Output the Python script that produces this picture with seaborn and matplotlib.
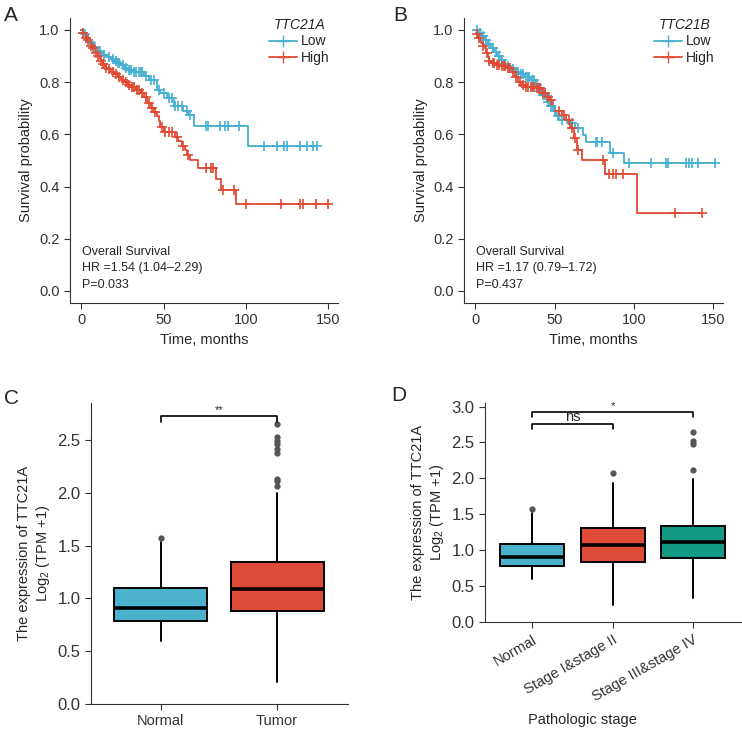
import numpy as np
import matplotlib
matplotlib.use('Agg')
import matplotlib.pyplot as plt
from matplotlib.lines import Line2D
import seaborn as sns

# ---- data ----
# Panel A: TTC21A survival (time, survival after step)
a_low_t = [0, 1, 2, 3, 4, 5, 6, 7, 8, 9, 10, 12, 14, 16, 18, 20, 22, 24, 26, 28, 31, 38, 41, 46, 48, 52, 56, 62, 65, 68.5, 101, 143]
a_low_s = [1.0, 0.99, 0.985, 0.975, 0.965, 0.955, 0.95, 0.94, 0.935, 0.93, 0.92, 0.91, 0.905, 0.895, 0.89, 0.88, 0.875, 0.865, 0.855, 0.845, 0.84, 0.825, 0.81, 0.77, 0.76, 0.74, 0.71, 0.69, 0.675, 0.633, 0.555, 0.555]
a_low_cens = [1, 2, 5, 8, 11, 14, 17, 19, 21, 22, 23, 25, 27, 29, 30, 32, 33, 35, 36, 37, 39, 42, 44, 47, 50, 53, 55, 57, 59, 61, 64, 66,
              76, 77, 84, 87, 89, 96, 111, 119, 123, 125, 133, 137, 141, 143]
a_high_t = [0, 1, 2, 3, 4, 5, 6, 7, 8, 9, 10, 11, 12, 13, 14, 15, 16, 18, 20, 22, 24, 26, 28, 30, 33, 36, 38, 40, 42, 44, 46, 47, 48, 50,
            57, 59, 61, 63, 64, 66, 71, 82, 85, 94, 150]
a_high_s = [1.0, 0.99, 0.98, 0.97, 0.96, 0.95, 0.94, 0.93, 0.92, 0.91, 0.90, 0.89, 0.88, 0.87, 0.86, 0.855, 0.85, 0.84, 0.83, 0.82, 0.81,
            0.80, 0.79, 0.78, 0.77, 0.76, 0.745, 0.72, 0.70, 0.685, 0.67, 0.65, 0.63, 0.61, 0.59, 0.575, 0.555, 0.54, 0.52, 0.50, 0.47,
            0.43, 0.387, 0.333, 0.333]
a_high_cens = [1, 3, 4, 6, 7, 9, 10, 12, 13, 15, 17, 19, 21, 23, 25, 27, 29, 31, 32, 34, 35, 37, 39, 41, 43, 45, 49, 51, 53, 55, 58, 62,
               65, 76, 79, 80, 86, 93, 100, 121.5, 133, 134.5, 142.5, 150]

# Panel B: TTC21B survival
b_low_t = [0, 2, 4, 6, 8, 10, 12, 14, 16, 18, 20, 22, 25, 28, 31, 35, 38, 40, 42, 45, 47, 49, 51, 53, 58, 63, 68, 70, 85, 94, 151]
b_low_s = [1.0, 0.99, 0.975, 0.96, 0.945, 0.93, 0.915, 0.9, 0.885, 0.87, 0.86, 0.85, 0.84, 0.83, 0.82, 0.81, 0.79, 0.765, 0.75, 0.725,
           0.71, 0.69, 0.67, 0.655, 0.642, 0.623, 0.598, 0.572, 0.53, 0.49, 0.49]
b_low_cens = [1, 3, 5, 7, 9, 11, 13, 15, 17, 19, 21, 24, 26, 27, 29, 30, 32, 33, 34, 36, 37, 39, 41, 43, 44, 46, 48, 50, 52, 55, 61, 65,
              76, 77, 80, 86.5, 97, 110.5, 120, 121.5, 133, 134.5, 136.5, 140.5, 151]
b_high_t = [0, 1, 2, 3, 4, 5, 6, 7, 8, 9, 10, 13, 16, 20, 23, 25, 27, 29, 31, 38, 42, 45, 47, 49, 50, 55, 57, 60, 62, 64, 67, 82, 102, 143]
b_high_s = [1.0, 0.985, 0.97, 0.96, 0.95, 0.94, 0.93, 0.91, 0.895, 0.88, 0.872, 0.865, 0.86, 0.853, 0.84, 0.82, 0.80, 0.79, 0.783, 0.776,
            0.757, 0.745, 0.732, 0.71, 0.69, 0.674, 0.655, 0.623, 0.585, 0.54, 0.50, 0.448, 0.298, 0.298]
b_high_cens = [1, 2.5, 5, 7.5, 9, 11, 12, 14, 15, 17, 18, 19, 21, 22, 24, 26, 28, 30, 32, 33, 35, 36, 37, 39, 40, 41, 43, 44, 46, 48, 53,
               56, 59, 61, 63, 65, 80.5, 84, 86.5, 89, 93, 126, 143]

# Panel C: box stats (whislo, q1, med, q3, whishi) and outliers
c_groups = ['Normal', 'Tumor']
c_stats = [[0.60, 0.79, 0.905, 1.097, 1.538], [0.21, 0.876, 1.091, 1.34, 2.00]]
c_fliers = [[1.573], [2.651, 2.53, 2.49, 2.46, 2.415, 2.374, 2.128, 2.112, 2.068]]

# Panel D
d_groups = ['Normal', 'Stage I&stage II', 'Stage III&stage IV']
d_stats = [[0.598, 0.784, 0.904, 1.09, 1.525], [0.232, 0.83, 1.066, 1.303, 1.934], [0.329, 0.886, 1.108, 1.34, 1.989]]
d_fliers = [[1.567], [2.073], [2.643, 2.522, 2.481, 2.119]]

KM_BLUE, KM_RED = '#45B0CF', '#E04A33'
BLUE, RED, GREEN = '#4AB3CB', '#DE4B36', '#139A84'

sns.set_style('ticks')
plt.rcParams['font.family'] = ['Liberation Sans', 'DejaVu Sans']
plt.rcParams['mathtext.fontset'] = 'custom'
plt.rcParams['mathtext.rm'] = 'Liberation Sans'
plt.rcParams['axes.edgecolor'] = '#333333'
plt.rcParams['xtick.color'] = '#333333'
plt.rcParams['ytick.color'] = '#333333'

fig = plt.figure(figsize=(7.42, 7.35), dpi=100)


def km(ax, t, s, cens, color):
    sns.lineplot(x=t, y=s, drawstyle='steps-post', estimator=None, sort=False,
                 color=color, lw=1.3, ax=ax)
    t = np.array(t)
    idx = np.searchsorted(t, cens, side='right') - 1
    ys = np.array(s)[idx]
    ax.scatter(cens, ys, marker='+', s=50, color=color, linewidths=1.2, zorder=3)


def km_panel(rect, gene, low, high, hr, p, letter, lx):
    ax = fig.add_axes(rect)
    km(ax, *low, KM_BLUE)
    km(ax, *high, KM_RED)
    ax.set_xlim(-7, 156)
    ax.set_ylim(-0.046, 1.046)
    ax.set_xticks([0, 50, 100, 150])
    ax.set_yticks([0, 0.2, 0.4, 0.6, 0.8, 1.0])
    ax.set_yticklabels(['0.0', '0.2', '0.4', '0.6', '0.8', '1.0'])
    ax.tick_params(labelsize=10.5, length=4, width=0.8)
    ax.set_xlabel('Time, months', fontsize=10.5)
    ax.set_ylabel('Survival probability', fontsize=10.5)
    sns.despine(ax=ax)
    handles = [Line2D([], [], color=KM_BLUE, marker='+', markersize=8, lw=1.3),
               Line2D([], [], color=KM_RED, marker='+', markersize=8, lw=1.3)]
    ax.legend(handles, ['Low', 'High'], title=gene, frameon=False, loc='upper right',
              bbox_to_anchor=(1.0, 1.03), fontsize=10, title_fontsize=10,
              handlelength=2.0, handletextpad=0.3, borderaxespad=0.2,
              labelspacing=0.2)
    ax.get_legend().get_title().set_style('italic')
    ax.text(0.5, 0.15, 'Overall Survival', fontsize=9, va='center')
    ax.text(0.5, 0.087, 'HR =' + hr, fontsize=9, va='center')
    ax.text(0.5, 0.023, 'P=' + p, fontsize=9, va='center')
    fig.text(lx, 0.972, letter, fontsize=15)
    return ax


km_panel([0.0943, 0.5878, 0.3612, 0.3878], 'TTC21A', (a_low_t, a_low_s, a_low_cens),
         (a_high_t, a_high_s, a_high_cens), '1.54 (1.04–2.29)', '0.033', 'A', 0.006)
km_panel([0.6253, 0.5878, 0.349, 0.3878], 'TTC21B', (b_low_t, b_low_s, b_low_cens),
         (b_high_t, b_high_s, b_high_cens), '1.17 (0.79–1.72)', '0.437', 'B', 0.53)


def box_panel(rect, groups, stats, fliers, colors):
    ax = fig.add_axes(rect)
    bx = []
    for g, st, fl in zip(groups, stats, fliers):
        bx.append(dict(label=g, whislo=st[0], q1=st[1], med=st[2], q3=st[3], whishi=st[4], fliers=fl))
    parts = ax.bxp(bx, positions=range(len(groups)), widths=0.8, patch_artist=True, showcaps=False,
                   boxprops=dict(edgecolor='black', linewidth=1.4),
                   medianprops=dict(color='black', linewidth=2.6),
                   whiskerprops=dict(color='black', linewidth=1.4),
                   flierprops=dict(marker='o', markersize=3.5, markerfacecolor='#555555',
                                   markeredgecolor='#555555'))
    for patch, c in zip(parts['boxes'], colors):
        patch.set_facecolor(c)
    sns.despine(ax=ax)
    ax.tick_params(axis='y', labelsize=12, length=4, width=0.8)
    ax.tick_params(axis='x', labelsize=10.5, length=4, width=0.8)
    ax.set_ylabel('The expression of TTC21A\nLog$_2$ (TPM +1)', fontsize=10.5, multialignment='center')
    return ax


def bracket(ax, x0, x1, y, h, label, fs):
    ax.plot([x0, x0, x1, x1], [y - h, y, y, y - h], color='black', lw=1.2)
    ax.text((x0 + x1) / 2, y + 0.01, label, ha='center', va='bottom', fontsize=fs)


# panel C
axc = box_panel([0.1226, 0.0422, 0.3464, 0.4095], c_groups, c_stats, c_fliers, [BLUE, RED])
axc.set_xlim(-0.6, 1.61)
axc.set_ylim(0, 2.85)
axc.set_yticks([0, 0.5, 1.0, 1.5, 2.0, 2.5])
axc.set_yticklabels(['0.0', '0.5', '1.0', '1.5', '2.0', '2.5'])
bracket(axc, 0, 1, 2.727, 0.055, '**', 8)
fig.text(0.006, 0.45, 'C', fontsize=15)

# panel D
axd = box_panel([0.6536, 0.1537, 0.3464, 0.298], d_groups, d_stats, d_fliers, [BLUE, RED, GREEN])
axd.set_xlim(-0.59, 2.61)
axd.set_ylim(0, 3.05)
axd.set_yticks([0, 0.5, 1.0, 1.5, 2.0, 2.5, 3.0])
axd.set_yticklabels(['0.0', '0.5', '1.0', '1.5', '2.0', '2.5', '3.0'])
for lab in axd.get_xticklabels():
    lab.set_rotation(30)
    lab.set_ha('right')
    lab.set_rotation_mode('anchor')
axd.set_xlabel('Pathologic stage', fontsize=10.5, va='center')
axd.xaxis.set_label_coords(0.38, -0.447)
bracket(axd, 0, 2, 2.921, 0.06, '*', 8)
bracket(axd, 0, 1, 2.754, 0.065, 'ns', 10.5)
fig.text(0.527, 0.455, 'D', fontsize=15)

fig.savefig('out.png', dpi=100)
